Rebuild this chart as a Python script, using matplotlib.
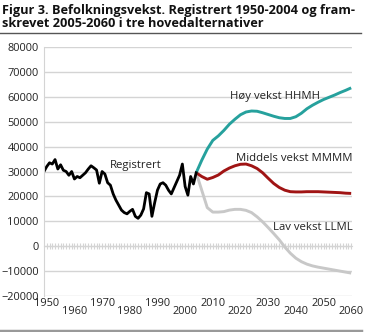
import matplotlib
matplotlib.use("Agg")
import matplotlib.pyplot as plt
from matplotlib.lines import Line2D

plt.rcParams["font.family"] = ["Open Sans", "DejaVu Sans"]

# registered annual growth (first point sits on the left axis edge)
reg_years = list(range(1949, 2005))
reg_values = [30000, 32000, 33500, 33000, 34800, 31000, 32700, 30500, 30000, 28500,
              30000, 27000, 28000, 27500, 28500, 29500, 31000, 32300, 31500, 30600,
              25300, 30000, 29000, 25500, 24500, 21000, 18500, 16500, 14500, 13500,
              13000, 14000, 14800, 12000, 11200, 12500, 15000, 21500, 21000, 12000,
              17500, 22500, 25000, 25500, 24500, 22500, 21000, 23500, 26000, 28500,
              33000, 24000, 20500, 28000, 25000, 29500]

proj_years = list(range(2004, 2061, 2))
high = [29500, 34500, 39000, 42500, 44300, 46500, 49000, 51000, 52800, 53900,
        54300, 54200, 53600, 52900, 52200, 51600, 51300, 51300, 52000, 53400,
        55200, 56600, 57800, 58900, 59800, 60700, 61700, 62600, 63600]
middle = [29500, 28000, 26900, 27600, 28600, 30200, 31400, 32300, 32900, 33000,
          32300, 31200, 29500, 27300, 25200, 23600, 22500, 21900, 21800, 21800,
          21900, 21900, 21900, 21800, 21700, 21600, 21500, 21300, 21200]
low = [29500, 22500, 15500, 13700, 13700, 13900, 14500, 14800, 14800, 14400,
       13500, 11800, 9800, 7500, 5100, 2600, -300, -2800, -4800, -6200,
       -7200, -7900, -8400, -8800, -9200, -9600, -10000, -10400, -10800]

title = "Figur 3. Befolkningsvekst. Registrert 1950-2004 og fram-\nskrevet 2005-2060 i tre hovedalternativer"
label_years = list(range(1950, 2061, 10))
grid_years = list(range(1950, 2051, 20))

fig = plt.figure(figsize=(3.65, 3.32), dpi=100)
ax = fig.add_axes([0.1205, 0.1084, 0.8439, 0.75])

ax.plot(proj_years, low, color="#c8c8c8", lw=2.1, solid_capstyle="butt")
ax.plot(proj_years, middle, color="#a01414", lw=2.1, solid_capstyle="butt")
ax.plot(proj_years, high, color="#26a19d", lw=2.1, solid_capstyle="butt")
ax.plot(reg_years, reg_values, color="black", lw=2.0, solid_joinstyle="round")

ax.set_xlim(1949, 2060.3)
ax.set_ylim(-20000, 80000)
ax.set_yticks(range(-20000, 80001, 10000))
ax.set_xticks(label_years)
ax.set_xticklabels([str(y) for y in label_years])
ax.set_xticks(grid_years, minor=True)

ax.grid(axis="y", color="#d4d4d4", lw=1.0)
ax.grid(axis="x", which="minor", color="#d4d4d4", lw=1.0)
ax.set_axisbelow(True)

for s in ["top", "right", "bottom"]:
    ax.spines[s].set_visible(False)
ax.spines["left"].set_color("#d4d4d4")
ax.tick_params(axis="both", which="both", length=0, labelsize=7.9, colors="#222222")
ax.tick_params(axis="y", pad=3.8)

for i, tick in enumerate(ax.xaxis.get_major_ticks()):
    tick.set_pad(1.5 if i % 2 == 0 else 7.5)

# zero line with yearly hash marks
zero = ax.secondary_xaxis(0.2)
zero.spines["bottom"].set_color("#d4d4d4")
zero.set_xticks(range(1950, 2061))
zero.tick_params(length=4, direction="inout", color="#d4d4d4", width=0.8, labelbottom=False)

txt = dict(fontsize=8.2, color="#222222")
ax.text(1972.8, 32400, "Registrert", va="center", ha="left", **txt)
ax.text(2016.1, 60000, "Høy vekst HHMH", va="center", ha="left", **txt)
ax.text(2060.4, 35400, "Middels vekst MMMM", va="center", ha="right", **txt)
ax.text(2060.4, 7500, "Lav vekst LLML", va="center", ha="right", **txt)

fig.text(0.005, 0.988, title, ha="left", va="top", fontsize=9.2, fontweight="bold",
         linespacing=1.0, color="#111111")
fig.add_artist(Line2D([0, 0.99], [1 - 33.3 / 332] * 2, color="#555555", lw=1.0))
fig.add_artist(Line2D([0, 0.99], [1 - 330.5 / 332] * 2, color="#999999", lw=2.5))

fig.savefig("out.png", dpi=100)
